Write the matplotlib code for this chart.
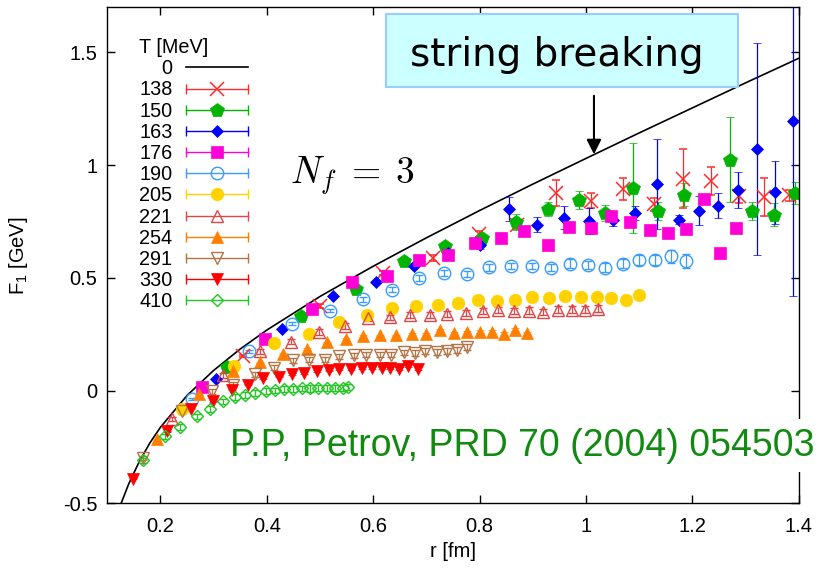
import matplotlib
matplotlib.use("Agg")
import matplotlib.pyplot as plt
from matplotlib.lines import Line2D
from matplotlib.patches import Rectangle
from matplotlib.container import ErrorbarContainer
from matplotlib.legend_handler import HandlerBase

plt.rcParams['font.family'] = ['Liberation Sans', 'DejaVu Sans']
plt.rcParams['mathtext.fontset'] = 'custom'
plt.rcParams['mathtext.rm'] = 'Liberation Sans'
plt.rcParams['mathtext.it'] = 'Liberation Sans:italic'

# T = 0 curve
r_T0 = [0.126, 0.14, 0.16, 0.18, 0.2, 0.25, 0.3, 0.35, 0.4, 0.5, 0.6, 0.7, 0.8,
        0.9, 1.0, 1.1, 1.2, 1.3, 1.4]
F_T0 = [-0.500, -0.415, -0.315, -0.232, -0.162, -0.021, 0.090, 0.185, 0.269,
        0.418, 0.552, 0.678, 0.799, 0.916, 1.030, 1.143, 1.254, 1.365, 1.474]

r_138 = [0.355, 0.50, 0.618, 0.712, 0.798, 0.871, 0.944, 1.009, 1.069, 1.127,
         1.182, 1.235, 1.287, 1.334, 1.381]
F_138 = [0.155, 0.376, 0.522, 0.589, 0.695, 0.735, 0.877, 0.843, 0.895, 0.826,
         0.94, 0.929, 0.862, 0.858, 0.867]
e_138 = [0.005, 0.008, 0.01, 0.012, 0.015, 0.02, 0.056, 0.033, 0.05, 0.03,
         0.13, 0.063, 0.03, 0.085, 0.025]

r_150 = [0.325, 0.464, 0.568, 0.657, 0.735, 0.805, 0.869, 0.928, 0.986, 1.036,
         1.089, 1.136, 1.185, 1.271, 1.313, 1.354, 1.393]
F_150 = [0.103, 0.33, 0.453, 0.576, 0.642, 0.677, 0.747, 0.806, 0.845, 0.789,
         0.90, 0.796, 0.87, 1.025, 0.796, 0.781, 0.877]
e_150 = [0.003, 0.005, 0.008, 0.01, 0.012, 0.015, 0.035, 0.03, 0.04, 0.035,
         0.2, 0.04, 0.05, 0.19, 0.04, 0.05, 0.05]

r_163 = [0.304, 0.428, 0.525, 0.605, 0.677, 0.741, 0.801, 0.856, 0.908, 0.958,
         1.005, 1.05, 1.092, 1.133, 1.174, 1.212, 1.249, 1.286, 1.321, 1.356, 1.389]
F_163 = [0.053, 0.273, 0.422, 0.482, 0.555, 0.611, 0.645, 0.806, 0.737, 0.767,
         0.752, 0.756, 0.789, 0.917, 0.759, 0.799, 0.821, 0.889, 1.073, 0.88, 1.198]
e_163 = [0.002, 0.004, 0.006, 0.008, 0.01, 0.012, 0.015, 0.053, 0.033, 0.05,
         0.057, 0.024, 0.03, 0.2, 0.02, 0.065, 0.055, 0.08, 0.47, 0.14, 0.78]

r_176 = [0.279, 0.397, 0.484, 0.56, 0.625, 0.686, 0.74, 0.792, 0.84, 0.884,
         0.928, 0.969, 1.009, 1.047, 1.083, 1.12, 1.154, 1.188, 1.222, 1.252, 1.282]
F_176 = [0.015, 0.23, 0.363, 0.482, 0.51, 0.581, 0.60, 0.655, 0.678, 0.71,
         0.644, 0.725, 0.722, 0.774, 0.747, 0.712, 0.70, 0.718, 0.85, 0.612, 0.72]
e_176 = [0.002, 0.003, 0.003, 0.004, 0.004, 0.005, 0.005, 0.005, 0.006, 0.006,
         0.006, 0.007, 0.007, 0.008, 0.008, 0.008, 0.009, 0.009, 0.01, 0.01, 0.01]

r_190 = [0.259, 0.367, 0.447, 0.518, 0.581, 0.635, 0.686, 0.733, 0.777, 0.818,
         0.859, 0.898, 0.935, 0.97, 1.004, 1.036, 1.069, 1.10, 1.13, 1.16, 1.188]
F_190 = [-0.036, 0.175, 0.297, 0.355, 0.405, 0.448, 0.50, 0.522, 0.518, 0.547,
         0.552, 0.553, 0.545, 0.564, 0.559, 0.545, 0.562, 0.578, 0.581, 0.596, 0.574]
e_190 = [0.004, 0.006, 0.007, 0.008, 0.01, 0.01, 0.012, 0.012, 0.012, 0.014,
         0.014, 0.015, 0.016, 0.02, 0.018, 0.02, 0.02, 0.022, 0.022, 0.028, 0.03]

r_205 = [0.24, 0.338, 0.413, 0.479, 0.536, 0.588, 0.636, 0.68, 0.721, 0.76,
         0.797, 0.832, 0.867, 0.899, 0.931, 0.961, 0.991, 1.02, 1.047, 1.075, 1.10]
F_205 = [-0.081, 0.111, 0.212, 0.252, 0.303, 0.334, 0.367, 0.377, 0.382, 0.389,
         0.402, 0.399, 0.404, 0.415, 0.411, 0.419, 0.416, 0.416, 0.411, 0.401, 0.426]
e_205 = [0.002, 0.002, 0.003, 0.003, 0.003, 0.004, 0.004, 0.004, 0.004, 0.005,
         0.005, 0.005, 0.005, 0.006, 0.006, 0.006, 0.006, 0.007, 0.007, 0.007, 0.008]

r_221 = [0.222, 0.318, 0.387, 0.446, 0.498, 0.547, 0.591, 0.632, 0.670, 0.706,
         0.739, 0.775, 0.806, 0.834, 0.865, 0.893, 0.92, 0.948, 0.973, 0.998, 1.023]
F_221 = [-0.125, 0.069, 0.174, 0.218, 0.26, 0.287, 0.323, 0.325, 0.335, 0.337,
         0.34, 0.345, 0.352, 0.356, 0.355, 0.355, 0.349, 0.36, 0.36, 0.36, 0.363]
e_221 = [0.01, 0.011, 0.011, 0.012, 0.012, 0.012, 0.012, 0.012, 0.012, 0.013,
         0.013, 0.013, 0.013, 0.013, 0.013, 0.014, 0.014, 0.014, 0.014, 0.014, 0.015]

r_254 = [0.193, 0.273, 0.336, 0.387, 0.431, 0.475, 0.513, 0.548, 0.581, 0.613,
         0.642, 0.673, 0.699, 0.726, 0.752, 0.776, 0.80, 0.823, 0.846, 0.867, 0.889]
F_254 = [-0.215, -0.015, 0.086, 0.126, 0.163, 0.185, 0.214, 0.231, 0.241, 0.245,
         0.245, 0.253, 0.253, 0.268, 0.256, 0.261, 0.261, 0.261, 0.253, 0.271, 0.256]
e_254 = [0.002, 0.002, 0.003, 0.003, 0.003, 0.003, 0.004, 0.004, 0.004, 0.004,
         0.004, 0.005, 0.005, 0.005, 0.005, 0.005, 0.006, 0.006, 0.006, 0.006, 0.006]

r_291 = [0.168, 0.240, 0.296, 0.337, 0.378, 0.414, 0.449, 0.479, 0.509, 0.536,
         0.563, 0.587, 0.612, 0.634, 0.657, 0.679, 0.698, 0.72, 0.738, 0.757, 0.777]
F_291 = [-0.299, -0.092, -0.003, 0.027, 0.073, 0.101, 0.135, 0.138, 0.138, 0.152,
         0.157, 0.160, 0.160, 0.160, 0.170, 0.167, 0.175, 0.172, 0.175, 0.179, 0.192]
e_291 = [0.01, 0.01, 0.01, 0.011, 0.011, 0.011, 0.011, 0.012, 0.012, 0.012,
         0.012, 0.012, 0.012, 0.012, 0.012, 0.013, 0.013, 0.013, 0.013, 0.013, 0.013]

r_330 = [0.149, 0.212, 0.257, 0.298, 0.335, 0.364, 0.393, 0.422, 0.447, 0.47,
         0.494, 0.516, 0.536, 0.558, 0.578, 0.597, 0.616, 0.632, 0.649, 0.666, 0.685]
F_330 = [-0.39, -0.18, -0.08, -0.045, 0.004, 0.027, 0.056, 0.063, 0.075, 0.078,
         0.086, 0.09, 0.098, 0.098, 0.101, 0.101, 0.101, 0.101, 0.098, 0.108, 0.098]
e_330 = [0.002, 0.002, 0.002, 0.003, 0.003, 0.003, 0.003, 0.003, 0.004, 0.004,
         0.004, 0.004, 0.004, 0.004, 0.005, 0.005, 0.005, 0.005, 0.005, 0.005, 0.005]

r_410 = [0.168, 0.2085, 0.237, 0.268, 0.293, 0.317, 0.340, 0.359, 0.378, 0.398,
         0.415, 0.433, 0.45, 0.466, 0.481, 0.497, 0.513, 0.528, 0.544, 0.553]
F_410 = [-0.309, -0.203, -0.161, -0.114, -0.081, -0.047, -0.028, -0.018, -0.010, -0.001,
         0.001, 0.006, 0.009, 0.010, 0.010, 0.012, 0.012, 0.013, 0.013, 0.015]
e_410 = [0.012, 0.012, 0.012, 0.012, 0.012, 0.012, 0.013, 0.013, 0.013, 0.013,
         0.013, 0.013, 0.013, 0.013, 0.014, 0.014, 0.014, 0.014, 0.014, 0.014]

# label, r, F, err, marker, color, filled, markersize
series = [
    ('138', r_138, F_138, e_138, 'x', '#ff2a2a', True, 9.5),
    ('150', r_150, F_150, e_150, 'p', '#00b400', True, 10),
    ('163', r_163, F_163, e_163, 'D', '#0000ff', True, 6.3),
    ('176', r_176, F_176, e_176, 's', '#ff00d8', True, 9),
    ('190', r_190, F_190, e_190, 'o', '#3a9cff', False, 9),
    ('205', r_205, F_205, e_205, 'o', '#ffd200', True, 9),
    ('221', r_221, F_221, e_221, '^', '#e04646', False, 9),
    ('254', r_254, F_254, e_254, '^', '#ff7f00', True, 8.5),
    ('291', r_291, F_291, e_291, 'v', '#b37545', False, 8),
    ('330', r_330, F_330, e_330, 'v', '#ff0000', True, 8.5),
    ('410', r_410, F_410, e_410, 'D', '#22c822', False, 6),
]


class CapHandler(HandlerBase):
    # gnuplot style key sample: line with end caps and the point symbol in the middle
    def create_artists(self, legend, orig_handle, xdescent, ydescent,
                       width, height, fontsize, trans):
        src = orig_handle.lines[0]
        c = src.get_markeredgecolor()
        y = height / 2 - ydescent
        x0, x1 = -xdescent, width - xdescent
        bar = Line2D([x0, x1], [y, y], color=c, lw=1)
        caps = Line2D([x0, x1], [y, y], ls='none', marker='|', ms=7, mew=1, color=c)
        mark = Line2D([(x0 + x1) / 2], [y])
        mark.update_from(src)
        mark.set_linestyle('none')
        for a in (bar, caps, mark):
            a.set_transform(trans)
        return [bar, caps, mark]


fig = plt.figure(figsize=(8.22, 5.68), dpi=100)
ax = fig.add_axes([0.1305, 0.1136, 0.8412, 0.8735])

line0, = ax.plot(r_T0, F_T0, color='black', lw=1.2, label='0', zorder=1)

handles = [line0]
for lab, r, F, e, mk, col, filled, ms in series:
    kw = dict(fmt=mk, color=col, ecolor=col, elinewidth=0.9, capsize=3, capthick=0.9,
              ms=ms, label=lab, zorder=2)
    if filled:
        kw.update(mfc=col, mec=col, mew=1.1 if mk == 'x' else 0.5)
    else:
        kw.update(mfc='none', mec=col, mew=1.0)
    h = ax.errorbar(r, F, yerr=e, **kw)
    handles.append(h)

ax.set_xlim(0.1, 1.4)
ax.set_ylim(-0.5, 1.7)
ax.set_xticks([0.2, 0.4, 0.6, 0.8, 1.0, 1.2, 1.4])
ax.set_xticklabels(['0.2', '0.4', '0.6', '0.8', '1', '1.2', '1.4'])
ax.set_yticks([-0.5, 0, 0.5, 1.0, 1.5])
ax.set_yticklabels(['-0.5', '0', '0.5', '1', '1.5'])
ax.tick_params(direction='in', length=6, width=1, top=True, right=True, labelsize=14.5)
ax.tick_params(axis='x', pad=10)
ax.tick_params(axis='y', pad=7)
for s in ax.spines.values():
    s.set_linewidth(1)

ax.set_xlabel('r [fm]', fontsize=14.5)
ax.set_ylabel('F$_1$ [GeV]', fontsize=14.5)
ax.xaxis.set_label_coords(0.5, -0.078)
ax.yaxis.set_label_coords(-0.112, 0.5)

leg = ax.legend(handles=handles, title='T [MeV]', loc='upper left',
                bbox_to_anchor=(0.046, 0.938), frameon=False, markerfirst=False,
                fontsize=14.3, title_fontsize=14.3, labelspacing=0.11, handlelength=3.1,
                handletextpad=0.7, borderpad=0, borderaxespad=0, alignment='left',
                handler_map={ErrorbarContainer: CapHandler()})

# annotations
ax.text(0.444, 0.92, r'$N_f\;=\;3$', fontsize=27, math_fontfamily='cm', va='baseline')
ax.add_patch(Rectangle((0.624, 1.346), 0.662, 0.324, facecolor='#ccffff',
                       edgecolor='#99ccff', lw=1.5, zorder=5))
ax.text(0.946, 1.488, 'string breaking', fontsize=28, family='DejaVu Sans',
        ha='center', va='center', zorder=6)
ax.annotate('', xy=(1.015, 1.036), xytext=(1.015, 1.32),
            arrowprops=dict(arrowstyle='-|>', color='black', lw=1.5, mutation_scale=22),
            zorder=6)
ax.text(0.331, -0.288, 'P.P, Petrov, PRD 70 (2004) 054503', fontsize=27,
        color='#128a12', ha='left', va='baseline', zorder=6,
        bbox=dict(facecolor='white', edgecolor='none', pad=6))

fig.savefig('out.png', dpi=100)
